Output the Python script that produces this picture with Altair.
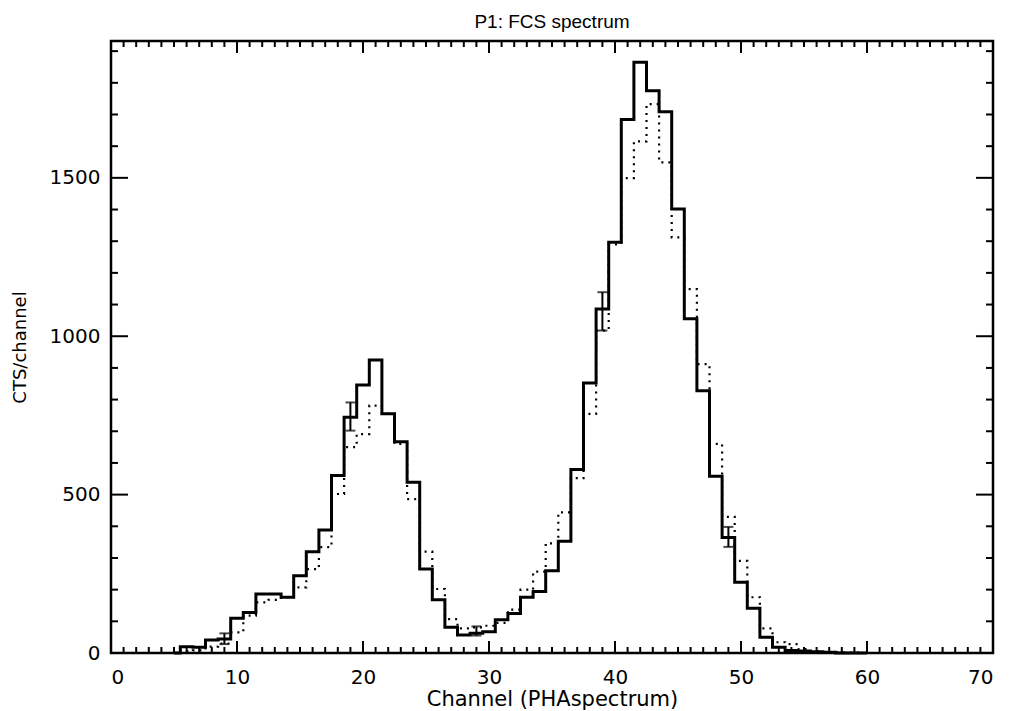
import altair as alt
import pandas as pd

channels = list(range(5, 61))
solid_counts = [0, 20, 18, 41, 44, 110, 128, 186, 186, 176,
                244, 320, 388, 560, 744, 846, 925, 755, 667, 539,
                265, 168, 81, 57, 62, 67, 105, 125, 176, 194,
                260, 353, 579, 852, 1086, 1297, 1684, 1865, 1775, 1709,
                1402, 1055, 828, 558, 365, 223, 141, 50, 18, 8,
                6, 4, 2, 0, 0, 0]
dotted_counts = [0, 5, 8, 20, 30, 65, 118, 160, 168, 176,
                 207, 265, 334, 502, 650, 691, 781, 755, 660, 486,
                 320, 202, 107, 78, 81, 86, 95, 137, 200, 257,
                 346, 444, 552, 755, 1018, 1290, 1499, 1615, 1733, 1549,
                 1312, 1149, 912, 660, 430, 291, 176, 78, 34, 28,
                 12, 6, 3, 2, 1, 0]

err_channels = [9, 19, 29, 39, 49]
err_low = [28, 702, 55, 1018, 335]
err_high = [62, 791, 84, 1139, 398]

x_ticks = list(range(0, 71))
y_ticks = list(range(0, 1901, 100))
x_labels = list(range(0, 71, 10))
y_labels = [0, 500, 1000, 1500]

W, H = 882, 612
FONT = "DejaVu Sans"

solid_df = pd.DataFrame({"ch": channels, "v": solid_counts})
dotted_df = pd.DataFrame({"ch": channels, "v": dotted_counts})
err_df = pd.DataFrame({"ch": err_channels, "lo": err_low, "hi": err_high})
xt_df = pd.DataFrame({"t": x_ticks})
xt_df["major"] = xt_df["t"] % 10 == 0
yt_df = pd.DataFrame({"t": y_ticks})
yt_df["major"] = yt_df["t"] % 500 == 0

xscale = alt.Scale(domain=[0, 70], nice=False, zero=False)
yscale = alt.Scale(domain=[0, 1932], nice=False)

xaxis = alt.Axis(values=x_labels, format="d", ticks=False, domain=False, grid=False,
                 labelPadding=14, labelFontSize=20, labelFont=FONT, labelColor="black",
                 title="Channel (PHAspectrum)", titleFont=FONT, titleFontSize=21,
                 titleFontWeight="normal", titleColor="black", titlePadding=1)
yaxis = alt.Axis(values=y_labels, format="d", ticks=False, domain=False, grid=False,
                 labelPadding=11, labelFontSize=20, labelFont=FONT, labelColor="black",
                 title="CTS/channel", titleFont=FONT, titleFontSize=18,
                 titleFontWeight="normal", titleColor="black", titlePadding=20)

solid = alt.Chart(solid_df).mark_line(interpolate="step", color="black", strokeWidth=3).encode(
    x=alt.X("ch:Q", scale=xscale, axis=xaxis),
    y=alt.Y("v:Q", scale=yscale, axis=yaxis),
)
dotted = alt.Chart(dotted_df).mark_line(interpolate="step", color="black", strokeWidth=2.2,
                                        strokeDash=[2, 5]).encode(
    x=alt.X("ch:Q", scale=xscale),
    y=alt.Y("v:Q", scale=yscale),
)
err_rule = alt.Chart(err_df).mark_rule(color="black", strokeWidth=2).encode(
    x=alt.X("ch:Q", scale=xscale), y=alt.Y("lo:Q", scale=yscale), y2="hi:Q")
cap_lo = alt.Chart(err_df).mark_tick(orient="horizontal", color="black", size=10, thickness=2).encode(
    x=alt.X("ch:Q", scale=xscale), y=alt.Y("lo:Q", scale=yscale))
cap_hi = alt.Chart(err_df).mark_tick(orient="horizontal", color="black", size=10, thickness=2).encode(
    x=alt.X("ch:Q", scale=xscale), y=alt.Y("hi:Q", scale=yscale))

layers = [solid, dotted, err_rule, cap_lo, cap_hi]

for is_major, xlen, ylen in [(True, 12, 17), (False, 6, 7)]:
    xsub = xt_df[xt_df["major"] == is_major]
    ysub = yt_df[yt_df["major"] == is_major]
    layers.append(alt.Chart(xsub).mark_rule(color="black", strokeWidth=2).encode(
        x=alt.X("t:Q", scale=xscale), y=alt.value(H), y2=alt.value(H - xlen)))
    layers.append(alt.Chart(xsub).mark_rule(color="black", strokeWidth=2).encode(
        x=alt.X("t:Q", scale=xscale), y=alt.value(0), y2=alt.value(xlen)))
    layers.append(alt.Chart(ysub).mark_rule(color="black", strokeWidth=2).encode(
        y=alt.Y("t:Q", scale=yscale), x=alt.value(0), x2=alt.value(ylen)))
    layers.append(alt.Chart(ysub).mark_rule(color="black", strokeWidth=2).encode(
        y=alt.Y("t:Q", scale=yscale), x=alt.value(W), x2=alt.value(W - ylen)))

chart = alt.layer(*layers).properties(
    width=W, height=H,
    title=alt.TitleParams("P1: FCS spectrum", font="Liberation Sans", fontSize=19,
                          fontWeight="normal", color="black", anchor="middle", offset=8),
    autosize=alt.AutoSizeParams(type="none"),
    padding={"left": 111, "top": 41, "right": 17, "bottom": 58},
).configure(background="white").configure_view(stroke="black", strokeWidth=2.5)

chart.save("out.html", embed_options={"renderer": "svg", "actions": False})
